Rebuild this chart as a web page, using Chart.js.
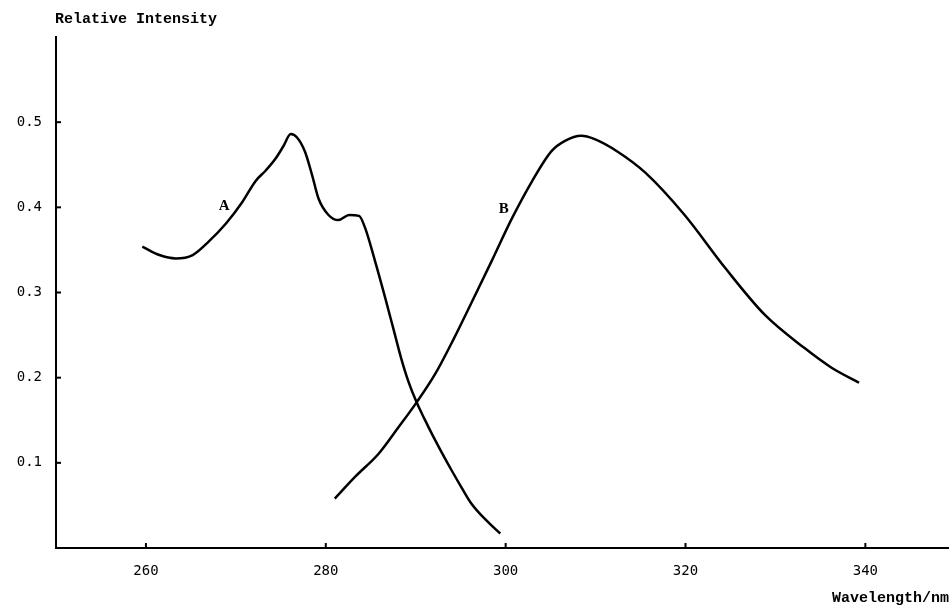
<!DOCTYPE html>
<html>
<head>
<meta charset="utf-8">
<script src="https://cdn.jsdelivr.net/npm/chart.js@4.4.1/dist/chart.umd.min.js"></script>
<style>
  html, body { margin: 0; padding: 0; background: #fff; }
  #wrap { width: 949px; height: 606px; }
</style>
</head>
<body>
<div id="wrap"><canvas id="spectrum"></canvas></div>
<script>
// curve A (absorption)
var wavelengthA = [259.6, 261.5, 263.3, 265.2, 267.0, 268.9, 270.7, 272.2, 273.3, 274.4, 275.3, 276.1, 276.8, 277.7, 278.5, 279.2, 280.3, 281.4, 282.6, 283.7, 284.4, 285.5, 286.6, 287.6, 288.4, 289.2, 290.1, 291.0, 291.8, 292.9, 294.0, 295.1, 296.2, 297.8, 299.4];
var intensityA  = [0.354, 0.344, 0.340, 0.344, 0.360, 0.381, 0.406, 0.431, 0.443, 0.457, 0.472, 0.486, 0.482, 0.465, 0.437, 0.410, 0.391, 0.385, 0.391, 0.390, 0.375, 0.336, 0.294, 0.254, 0.222, 0.195, 0.171, 0.151, 0.134, 0.112, 0.091, 0.071, 0.052, 0.033, 0.017];
// curve B (emission)
var wavelengthB = [281.0, 283.3, 285.9, 288.1, 290.1, 292.2, 294.2, 296.2, 298.4, 300.7, 302.9, 305.1, 306.6, 308.4, 309.9, 312.5, 315.5, 319.9, 324.4, 328.8, 333.2, 336.2, 339.3];
var intensityB  = [0.058, 0.084, 0.111, 0.142, 0.171, 0.205, 0.245, 0.288, 0.336, 0.387, 0.430, 0.466, 0.478, 0.484, 0.480, 0.465, 0.441, 0.391, 0.329, 0.274, 0.235, 0.212, 0.194];
var xTicks = [260, 280, 300, 320, 340];
var yTicks = [0.1, 0.2, 0.3, 0.4, 0.5];
var curveLabels = [
    { text: 'A', x: 268.7, y: 0.402 },
    { text: 'B', x: 299.8, y: 0.398 }
];

function toPoints(xs, ys) {
    return xs.map(function(x, i) { return { x: x, y: ys[i] }; });
}

var monoFont = '"Liberation Mono", "DejaVu Sans Mono", monospace';
var tickFont = { family: '"DejaVu Sans Mono", monospace', size: 14 };

// small tick marks pointing into the plot, plus the extra texts
var decorations = {
    id: 'decorations',
    afterDraw: function(chart) {
        var ctx = chart.ctx;
        var xs = chart.scales.x, ys = chart.scales.y;
        var area = chart.chartArea;
        ctx.save();
        ctx.strokeStyle = '#000';
        ctx.lineWidth = 2;
        xTicks.forEach(function(v) {
            var px = xs.getPixelForValue(v);
            ctx.beginPath();
            ctx.moveTo(px, area.bottom);
            ctx.lineTo(px, area.bottom - 5);
            ctx.stroke();
        });
        yTicks.forEach(function(v) {
            var py = ys.getPixelForValue(v);
            ctx.beginPath();
            ctx.moveTo(area.left, py);
            ctx.lineTo(area.left + 5, py);
            ctx.stroke();
        });

        ctx.fillStyle = '#000';
        ctx.font = 'bold 15px ' + monoFont;
        ctx.textBaseline = 'middle';
        ctx.textAlign = 'left';
        ctx.fillText('Relative Intensity', 55, 19);
        ctx.textAlign = 'right';
        ctx.fillText('Wavelength/nm', 949, 598);

        ctx.font = 'bold 15px "Liberation Serif", serif';
        ctx.textAlign = 'center';
        curveLabels.forEach(function(l) {
            ctx.fillText(l.text, xs.getPixelForValue(l.x), ys.getPixelForValue(l.y));
        });
        ctx.restore();
    }
};

var lineStyle = {
    borderColor: '#000',
    borderWidth: 2.5,
    pointRadius: 0,
    fill: false,
    cubicInterpolationMode: 'monotone'
};

new Chart(document.getElementById('spectrum').getContext('2d'), {
    type: 'line',
    data: {
        datasets: [
            Object.assign({ label: 'A', data: toPoints(wavelengthA, intensityA) }, lineStyle),
            Object.assign({ label: 'B', data: toPoints(wavelengthB, intensityB) }, lineStyle)
        ]
    },
    options: {
        responsive: true,
        maintainAspectRatio: false,
        animation: false,
        layout: { padding: { top: 37, right: 0, left: 0, bottom: 0 } },
        plugins: {
            legend: { display: false },
            tooltip: { enabled: false }
        },
        scales: {
            x: {
                type: 'linear',
                min: 250,
                max: 349.3,
                afterBuildTicks: function(scale) {
                    scale.ticks = xTicks.map(function(v) { return { value: v }; });
                },
                afterFit: function(scale) { scale.height = 58; },
                grid: { drawOnChartArea: false, drawTicks: false },
                border: { color: '#000', width: 2 },
                ticks: {
                    color: '#000',
                    padding: 15,
                    maxRotation: 0,
                    font: tickFont
                }
            },
            y: {
                type: 'linear',
                min: 0,
                max: 0.6,
                afterBuildTicks: function(scale) {
                    scale.ticks = yTicks.map(function(v) { return { value: v }; });
                },
                afterFit: function(scale) { scale.width = 56; },
                grid: { drawOnChartArea: false, drawTicks: false },
                border: { color: '#000', width: 2 },
                ticks: {
                    color: '#000',
                    padding: 14,
                    font: tickFont,
                    callback: function(v) { return v.toFixed(1); }
                }
            }
        }
    },
    plugins: [decorations]
});
</script>
</body>
</html>
